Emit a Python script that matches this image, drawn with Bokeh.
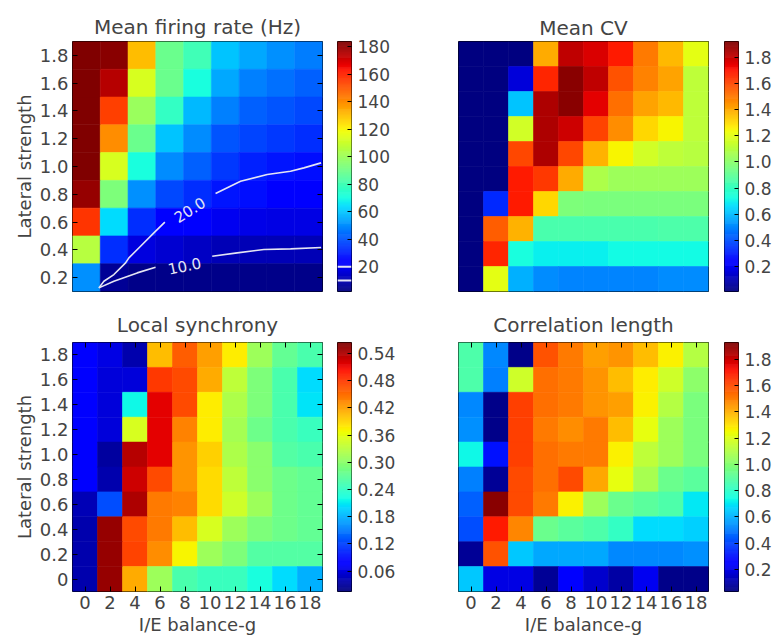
import numpy as np
from bokeh.plotting import figure
from bokeh.models import (LinearColorMapper, FixedTicker, Range1d, Span,
                          LinearAxis, PrintfTickFormatter, ColumnDataSource)
from bokeh.layouts import column, row
from bokeh.embed import file_html
from bokeh.resources import INLINE
from bokeh.core.properties import value

# ---------------- data ----------------
g_rate = [0, 2, 4, 6, 8, 10, 12, 14, 16]
l_rate = [1.8, 1.6, 1.4, 1.2, 1.0, 0.8, 0.6, 0.4, 0.2]
g_all = [0, 2, 4, 6, 8, 10, 12, 14, 16, 18]
l_all = [1.8, 1.6, 1.4, 1.2, 1.0, 0.8, 0.6, 0.4, 0.2, 0.0]

firing_rate = [
    [184, 182, 131, 89, 80, 60, 55, 51, 47],
    [184, 175, 113, 89, 71, 55, 48, 45, 42],
    [184, 155, 100, 77, 58, 48, 42, 40, 38],
    [184, 140, 89, 60, 50, 40, 37, 35, 33],
    [184, 113, 71, 50, 42, 35, 31, 29, 27],
    [180, 93, 51, 38, 33, 29, 27, 25, 24],
    [157, 64, 33, 25, 22, 20, 19, 18, 18],
    [106, 33, 17, 15, 13, 11, 11, 11, 11],
    [51, 6, 4, 4, 4, 4, 4, 4, 4],
]

mean_cv = [
    [0.01, 0.01, 0.01, 1.40, 1.81, 1.77, 1.69, 1.50, 1.37, 1.21],
    [0.01, 0.01, 0.16, 1.67, 1.90, 1.81, 1.58, 1.48, 1.42, 1.12],
    [0.01, 0.01, 0.62, 1.84, 1.90, 1.75, 1.52, 1.42, 1.37, 1.12],
    [0.01, 0.01, 1.16, 1.84, 1.79, 1.61, 1.46, 1.31, 1.25, 1.12],
    [0.01, 0.01, 1.60, 1.84, 1.60, 1.39, 1.25, 1.16, 1.12, 1.10],
    [0.01, 0.01, 1.69, 1.63, 1.40, 1.08, 1.04, 1.04, 1.04, 1.04],
    [0.01, 0.33, 1.69, 1.31, 0.97, 0.96, 0.96, 0.96, 0.96, 0.96],
    [0.01, 1.56, 1.39, 0.85, 0.85, 0.85, 0.85, 0.85, 0.86, 0.86],
    [0.01, 1.67, 0.74, 0.70, 0.70, 0.70, 0.72, 0.72, 0.72, 0.72],
    [0.01, 1.21, 0.58, 0.51, 0.50, 0.50, 0.50, 0.50, 0.51, 0.51],
]

local_sync = [
    [0.081, 0.064, 0.037, 0.405, 0.460, 0.421, 0.377, 0.311, 0.273, 0.257],
    [0.081, 0.059, 0.059, 0.482, 0.471, 0.416, 0.333, 0.290, 0.257, 0.202],
    [0.081, 0.059, 0.218, 0.515, 0.471, 0.377, 0.322, 0.290, 0.257, 0.207],
    [0.081, 0.059, 0.350, 0.515, 0.438, 0.377, 0.317, 0.279, 0.257, 0.246],
    [0.081, 0.031, 0.537, 0.515, 0.427, 0.394, 0.322, 0.300, 0.262, 0.257],
    [0.081, 0.037, 0.526, 0.471, 0.427, 0.388, 0.333, 0.300, 0.279, 0.273],
    [0.042, 0.125, 0.542, 0.443, 0.438, 0.388, 0.344, 0.311, 0.279, 0.273],
    [0.037, 0.553, 0.471, 0.443, 0.405, 0.350, 0.311, 0.290, 0.279, 0.273],
    [0.037, 0.553, 0.476, 0.432, 0.372, 0.311, 0.290, 0.262, 0.262, 0.262],
    [0.037, 0.553, 0.416, 0.311, 0.257, 0.246, 0.246, 0.224, 0.202, 0.180],
]

corr_length = [
    [0.87, 0.52, 0.05, 1.59, 1.51, 1.44, 1.46, 1.38, 1.27, 1.11],
    [0.87, 0.51, 1.17, 1.53, 1.51, 1.46, 1.38, 1.28, 1.17, 1.02],
    [0.52, 0.05, 1.63, 1.53, 1.51, 1.46, 1.44, 1.27, 1.11, 0.98],
    [0.54, 0.05, 1.63, 1.51, 1.47, 1.51, 1.38, 1.23, 1.06, 0.98],
    [0.73, 0.30, 1.63, 1.53, 1.51, 1.51, 1.27, 1.13, 1.06, 0.98],
    [0.51, 0.07, 1.61, 1.53, 1.61, 1.42, 1.23, 1.08, 0.94, 0.90],
    [0.45, 1.91, 1.61, 1.51, 1.27, 1.06, 0.94, 0.90, 0.87, 0.70],
    [0.41, 1.70, 1.49, 0.94, 0.90, 0.87, 0.81, 0.68, 0.68, 0.66],
    [0.07, 1.59, 0.64, 0.58, 0.58, 0.58, 0.52, 0.52, 0.52, 0.54],
    [0.64, 0.20, 0.20, 0.07, 0.26, 0.16, 0.09, 0.22, 0.05, 0.05],
]

# contour lines of the firing-rate map (g, lateral strength)
c20_a_g = [0.90, 1.26, 1.98, 2.82, 3.06, 3.90, 4.86, 5.65]
c20_a_l = [0.126, 0.174, 0.222, 0.306, 0.342, 0.426, 0.522, 0.599]
c20_b_g = [9.30, 11.10, 13.02, 14.70, 15.66, 16.90]
c20_b_l = [0.806, 0.894, 0.942, 0.966, 0.990, 1.026]
c10_a_g = [0.90, 1.98, 3.66, 4.98]
c10_a_l = [0.126, 0.174, 0.234, 0.275]
c10_b_g = [9.06, 10.86, 12.78, 14.70, 16.90]
c10_b_l = [0.354, 0.378, 0.402, 0.407, 0.417]
contour_levels = [20.0, 10.0]
contour_label_text = ["20.0", "10.0"]
contour_label_g = [7.42, 7.06]
contour_label_l = [0.69, 0.287]

rate_ticks = [20, 40, 60, 80, 100, 120, 140, 160, 180]
cv_ticks = [0.2, 0.4, 0.6, 0.8, 1.0, 1.2, 1.4, 1.6, 1.8]
sync_ticks = [0.06, 0.12, 0.18, 0.24, 0.30, 0.36, 0.42, 0.48, 0.54]
corr_ticks = [0.2, 0.4, 0.6, 0.8, 1.0, 1.2, 1.4, 1.6, 1.8]
y_ticks_top = [0.2, 0.4, 0.6, 0.8, 1.0, 1.2, 1.4, 1.6, 1.8]
y_ticks_bottom = [0.0, 0.2, 0.4, 0.6, 0.8, 1.0, 1.2, 1.4, 1.6, 1.8]
x_ticks = [0, 2, 4, 6, 8, 10, 12, 14, 16, 18]

# ---------------- styling helpers ----------------
FONT = "DejaVu Sans"
CONTOUR_COLOR = "#e4e4f4"


def jet(n):
    t = np.linspace(0, 1, n)
    r = np.interp(t, [0, 0.35, 0.66, 0.89, 1], [0, 0, 1, 1, 0.5])
    g = np.interp(t, [0, 0.125, 0.375, 0.64, 0.91, 1], [0, 0, 1, 1, 0, 0])
    b = np.interp(t, [0, 0.11, 0.34, 0.65, 1], [0.5, 1, 1, 0, 0])
    return ["#%02x%02x%02x" % (int(round(R * 255)), int(round(G * 255)), int(round(B * 255)))
            for R, G, B in zip(r, g, b)]


JET = jet(256)


def style_axis(ax, labels=True, font_size="18px"):
    ax.axis_line_color = None
    ax.major_tick_in = 5
    ax.major_tick_out = 0
    ax.major_tick_line_color = "black"
    ax.minor_tick_line_color = None
    ax.major_label_text_font = FONT
    ax.major_label_text_font_size = font_size
    ax.major_label_standoff = 4
    ax.axis_label_text_font = FONT
    ax.axis_label_text_font_size = "18px"
    ax.axis_label_text_font_style = "normal"
    ax.axis_label_standoff = 2
    if not labels:
        ax.major_label_text_color = None
        ax.major_label_text_font_size = "1px"
        ax.major_label_standoff = 0


def make_panel(matrix, gvals, lvals, low, high, title, width, height,
               bl, br, bt, bb, xr, yr, title_standoff,
               show_y=False, show_x=False, mirror_y=False, mirror_x=False):
    p = figure(width=width, height=height, x_range=Range1d(*xr), y_range=Range1d(*yr),
               output_backend="svg", toolbar_location=None,
               min_border_left=bl, min_border_right=br, min_border_top=bt,
               min_border_bottom=bb, title=title)
    p.title.text_font = FONT
    p.title.text_font_size = "20px"
    p.title.text_font_style = "normal"
    p.title.align = "center"
    p.title.standoff = title_standoff
    p.grid.visible = False
    p.outline_line_color = "black"
    p.outline_line_width = 1

    xs, ys, vs = [], [], []
    for i, l in enumerate(lvals):
        for j, g in enumerate(gvals):
            xs.append(g)
            ys.append(l)
            vs.append(matrix[i][j])
    dx = gvals[1] - gvals[0]
    dy = abs(lvals[0] - lvals[1])
    src = ColumnDataSource(dict(x=xs, y=ys, v=vs))
    mapper = LinearColorMapper(palette=JET, low=low, high=high)
    p.rect("x", "y", width=dx, height=dy, source=src,
           fill_color={"field": "v", "transform": mapper},
           line_color={"field": "v", "transform": mapper}, line_width=0.6)

    yt = y_ticks_top if min(lvals) > 0 else y_ticks_bottom
    if show_y:
        p.yaxis.ticker = FixedTicker(ticks=yt)
        p.yaxis.formatter = PrintfTickFormatter(format="%.1f")
        p.yaxis.major_label_overrides = {0: "0"}
        p.yaxis.axis_label = "Lateral strength"
        style_axis(p.yaxis[0])
    else:
        p.yaxis.visible = False
    if show_x:
        p.xaxis.ticker = FixedTicker(ticks=x_ticks)
        p.xaxis.axis_label = "I/E balance-g"
        style_axis(p.xaxis[0])
    else:
        p.xaxis.visible = False
    if mirror_y:
        ay = LinearAxis(ticker=FixedTicker(ticks=yt))
        style_axis(ay, labels=False)
        p.add_layout(ay, "right")
    if mirror_x:
        ax = LinearAxis(ticker=FixedTicker(ticks=x_ticks))
        style_axis(ax, labels=False)
        p.add_layout(ax, "above")
    return p


def make_cbar(low, high, ticks, fmt, width, height, bl, br, bt, bb, marks=()):
    p = figure(width=width, height=height, x_range=Range1d(0, 1),
               y_range=Range1d(low, high), y_axis_location="right",
               output_backend="svg", toolbar_location=None,
               min_border_left=bl, min_border_right=br, min_border_top=bt,
               min_border_bottom=bb)
    edges = np.linspace(low, high, len(JET) + 1)
    p.quad(left=0, right=1, bottom=edges[:-1], top=edges[1:],
           fill_color=JET, line_color=JET, line_width=0.5)
    for m in marks:
        p.add_layout(Span(location=m, dimension="width",
                          line_color=CONTOUR_COLOR, line_width=2))
    p.xaxis.visible = False
    p.grid.visible = False
    p.outline_line_color = "black"
    ya = p.yaxis[0]
    ya.ticker = FixedTicker(ticks=ticks)
    ya.formatter = PrintfTickFormatter(format=fmt)
    style_axis(ya, font_size="17px")
    ya.major_tick_in = 4
    ya.major_label_standoff = 6
    return p


# geometry (pixels)
TOP_H, BOT_H = 305, 336
TOP_T, TOP_B = 41, 14
BOT_T, BOT_B = 36, 50
L_W, LC_W, R_W, RC_W = 336, 64, 322, 56

rate_low, rate_high = 2, 184

p1 = make_panel(firing_rate, g_rate, l_rate, rate_low, rate_high, "Mean firing rate (Hz)",
                L_W, TOP_H, 72, 14, TOP_T, TOP_B, (-1, 17), (0.1, 1.9), 6,
                show_y=True, mirror_y=True)
line_kw = dict(line_color=CONTOUR_COLOR, line_width=1.6)
p1.line(c20_a_g, c20_a_l, **line_kw)
p1.line(c20_b_g, c20_b_l, **line_kw)
p1.line(c10_a_g, c10_a_l, **line_kw)
p1.line(c10_b_g, c10_b_l, **line_kw)
p1.text(x=contour_label_g, y=contour_label_l, text=contour_label_text,
        angle=[np.radians(32), np.radians(12)], text_align="center",
        text_baseline="middle", text_color=CONTOUR_COLOR,
        text_font=value(FONT), text_font_size="15px")
c1 = make_cbar(rate_low, rate_high, rate_ticks, "%d", LC_W, TOP_H, 1, LC_W - 15,
               TOP_T, TOP_B, marks=contour_levels)

p2 = make_panel(mean_cv, g_all, l_all, 0.01, 1.92, "Mean CV",
                R_W, TOP_H, 58, 14, TOP_T, TOP_B, (-1, 19), (-0.1, 1.9), 3)
c2 = make_cbar(0.01, 1.92, cv_ticks, "%.1f", RC_W, TOP_H, 2, RC_W - 16, TOP_T, TOP_B)

p3 = make_panel(local_sync, g_all, l_all, 0.015, 0.564, "Local synchrony",
                L_W, BOT_H, 72, 14, BOT_T, BOT_B, (-1, 19), (-0.1, 1.9), 11,
                show_y=True, show_x=True, mirror_y=True, mirror_x=True)
c3 = make_cbar(0.015, 0.564, sync_ticks, "%.2f", LC_W, BOT_H, 1, LC_W - 15, BOT_T, BOT_B)

p4 = make_panel(corr_length, g_all, l_all, 0.03, 1.93, "Correlation length",
                R_W, BOT_H, 58, 14, BOT_T, BOT_B, (-1, 19), (-0.1, 1.9), 11,
                show_x=True, mirror_x=True)
c4 = make_cbar(0.03, 1.93, corr_ticks, "%.1f", RC_W, BOT_H, 2, RC_W - 16, BOT_T, BOT_B)

layout = column(row(p1, c1, p2, c2), row(p3, c3, p4, c4))
open("out.html", "w").write(file_html(layout, INLINE))
